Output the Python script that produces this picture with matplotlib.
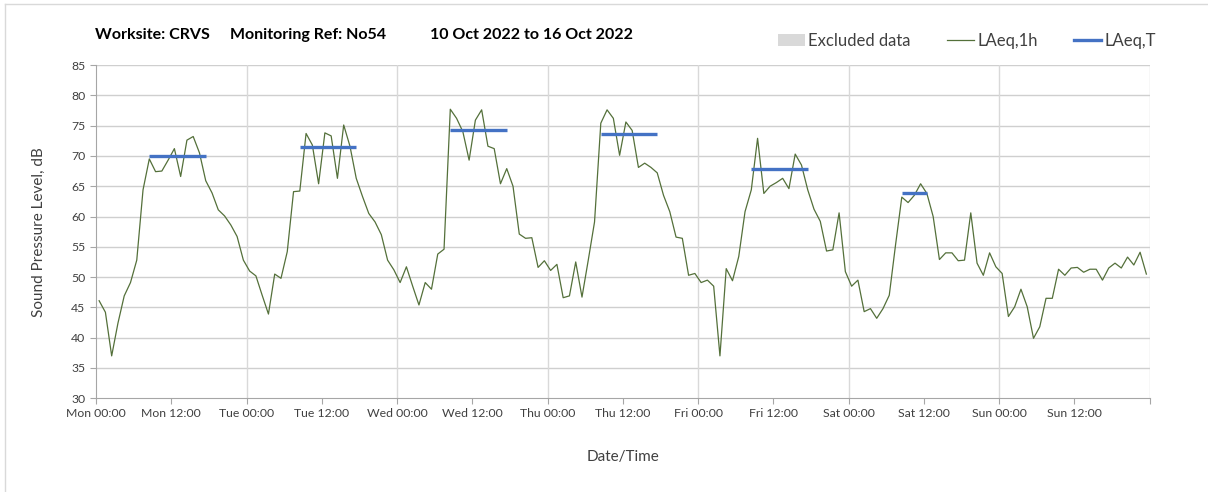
import matplotlib
matplotlib.use("Agg")
import matplotlib.pyplot as plt
import numpy as np
from matplotlib.lines import Line2D
from matplotlib.patches import Patch

plt.rcParams["font.family"] = ["Lato", "DejaVu Sans"]

# hourly LAeq,1h readings, Mon 00:00 -> Sun 23:00
laeq_1h = [
    46.1, 44.2, 37.0, 42.4, 46.9, 49.1, 52.8, 64.4, 69.5, 67.4, 67.5, 69.3,
    71.2, 66.6, 72.6, 73.2, 70.5, 65.9, 63.9, 61.1, 60.1, 58.6, 56.7, 52.8,
    51.0, 50.2, 47.0, 43.9, 50.5, 49.8, 54.2, 64.1, 64.2, 73.7, 71.8, 65.4,
    73.8, 73.3, 66.3, 75.1, 71.6, 66.3, 63.3, 60.5, 59.1, 57.0, 52.8, 51.2,
    49.1, 51.7, 48.5, 45.4, 49.1, 48.0, 53.8, 54.6, 77.7, 76.2, 74.0, 69.3,
    75.9, 77.6, 71.6, 71.2, 65.4, 67.9, 65.0, 57.1, 56.4, 56.5, 51.6, 52.7,
    51.1, 52.1, 46.6, 46.9, 52.5, 46.7, 52.8, 59.1, 75.4, 77.6, 76.2, 70.1,
    75.6, 74.2, 68.1, 68.8, 68.1, 67.2, 63.5, 60.8, 56.6, 56.4, 50.3, 50.6,
    49.1, 49.5, 48.5, 37.0, 51.4, 49.4, 53.4, 60.8, 64.4, 72.9, 63.8, 65.0,
    65.6, 66.3, 64.6, 70.3, 68.5, 64.4, 61.2, 59.2, 54.3, 54.5, 60.6, 50.9,
    48.5, 49.5, 44.3, 44.8, 43.2, 44.8, 47.0, 55.3, 63.2, 62.3, 63.5, 65.4,
    63.8, 60.0, 52.9, 54.0, 54.0, 52.7, 52.8, 60.6, 52.3, 50.3, 54.0, 51.7,
    50.6, 43.5, 45.1, 48.0, 45.1, 39.9, 41.8, 46.5, 46.5, 51.3, 50.3, 51.5,
    51.6, 50.8, 51.3, 51.3, 49.5, 51.5, 52.3, 51.5, 53.3, 52.0, 54.1, 50.5,
]

# LAeq,T over each working period
laeqt_day = [0, 1, 2, 3, 4, 5]
laeqt_first_hour = [8, 8, 8, 8, 8, 8]
laeqt_last_hour = [17, 17, 17, 17, 17, 12]
laeqt_level = [70.0, 71.5, 74.3, 73.6, 67.8, 63.8]

day_names = ["Mon", "Tue", "Wed", "Thu", "Fri", "Sat", "Sun"]
title_parts = ["Worksite: CRVS", "Monitoring Ref: No54", "10 Oct 2022 to 16 Oct 2022"]

GREEN = "#54703a"
BLUE = "#4472c4"
GRID = "#d9d9d9"
TXT = "#404040"

fig = plt.figure(figsize=(12.08, 4.92), dpi=100)
ax = fig.add_axes([96 / 1208, 1 - 398.3 / 492, 1053.5 / 1208, 333.3 / 492])

hours = np.arange(len(laeq_1h)) + 0.5
ax.plot(hours, laeq_1h, color=GREEN, lw=0.9, zorder=3)

for d, h0, h1, lvl in zip(laeqt_day, laeqt_first_hour, laeqt_last_hour, laeqt_level):
    ax.plot([d * 24 + h0 + 0.5, d * 24 + h1 + 0.5], [lvl, lvl], color=BLUE, lw=2.4,
            solid_capstyle="butt", zorder=4)

ax.set_xlim(0, 168)
ax.set_ylim(30, 85)
ax.set_yticks(np.arange(30, 86, 5))
ax.set_xticks(np.arange(0, 169, 12))
ax.set_xticklabels([f"{day_names[t // 24]} {t % 24:02d}:00" if t < 168 else ""
                    for t in range(0, 169, 12)])
for y in range(35, 86, 5):
    ax.axhline(y, color="#cfcfcf", lw=1.0, zorder=1)
for x in range(24, 169, 24):
    ax.axvline(x, color=GRID, lw=1.0, zorder=1)

for s in ["top", "right"]:
    ax.spines[s].set_visible(False)
for s in ["left", "bottom"]:
    ax.spines[s].set_color("#a6a6a6")
ax.tick_params(axis="both", colors="#a6a6a6", labelcolor=TXT, labelsize=8.8, length=4)
ax.tick_params(axis="x", pad=3)

ax.set_ylabel("Sound Pressure Level, dB", fontsize=11, color=TXT, labelpad=18)
ax.set_xlabel("Date/Time", fontsize=11, color=TXT, labelpad=22)

for xpos, part in zip([95, 230, 430], title_parts):
    fig.text(xpos / 1208, 1 - 35 / 492, part, fontsize=11.5, fontweight="bold",
             va="center", ha="left")

handles = [Patch(facecolor="#d9d9d9", edgecolor="none"),
           Line2D([], [], color=GREEN, lw=0.9),
           Line2D([], [], color=BLUE, lw=2.4)]
fig.legend(handles, ["Excluded data", "LAeq,1h", "LAeq,T"], loc="center",
           bbox_to_anchor=(967 / 1208, 1 - 41 / 492), ncol=3, frameon=False,
           fontsize=12, handlelength=1.6, handletextpad=0.2, columnspacing=2.2,
           labelcolor=TXT)

# chart-area border (left and top edges visible)
fig.add_artist(Line2D([5 / 1208, 5 / 1208], [0, 1 - 4 / 492], color=GRID, lw=1,
                      transform=fig.transFigure))
fig.add_artist(Line2D([5 / 1208, 1], [1 - 4 / 492, 1 - 4 / 492], color=GRID, lw=1,
                      transform=fig.transFigure))

fig.savefig("out.png", dpi=100)
plt.close(fig)
